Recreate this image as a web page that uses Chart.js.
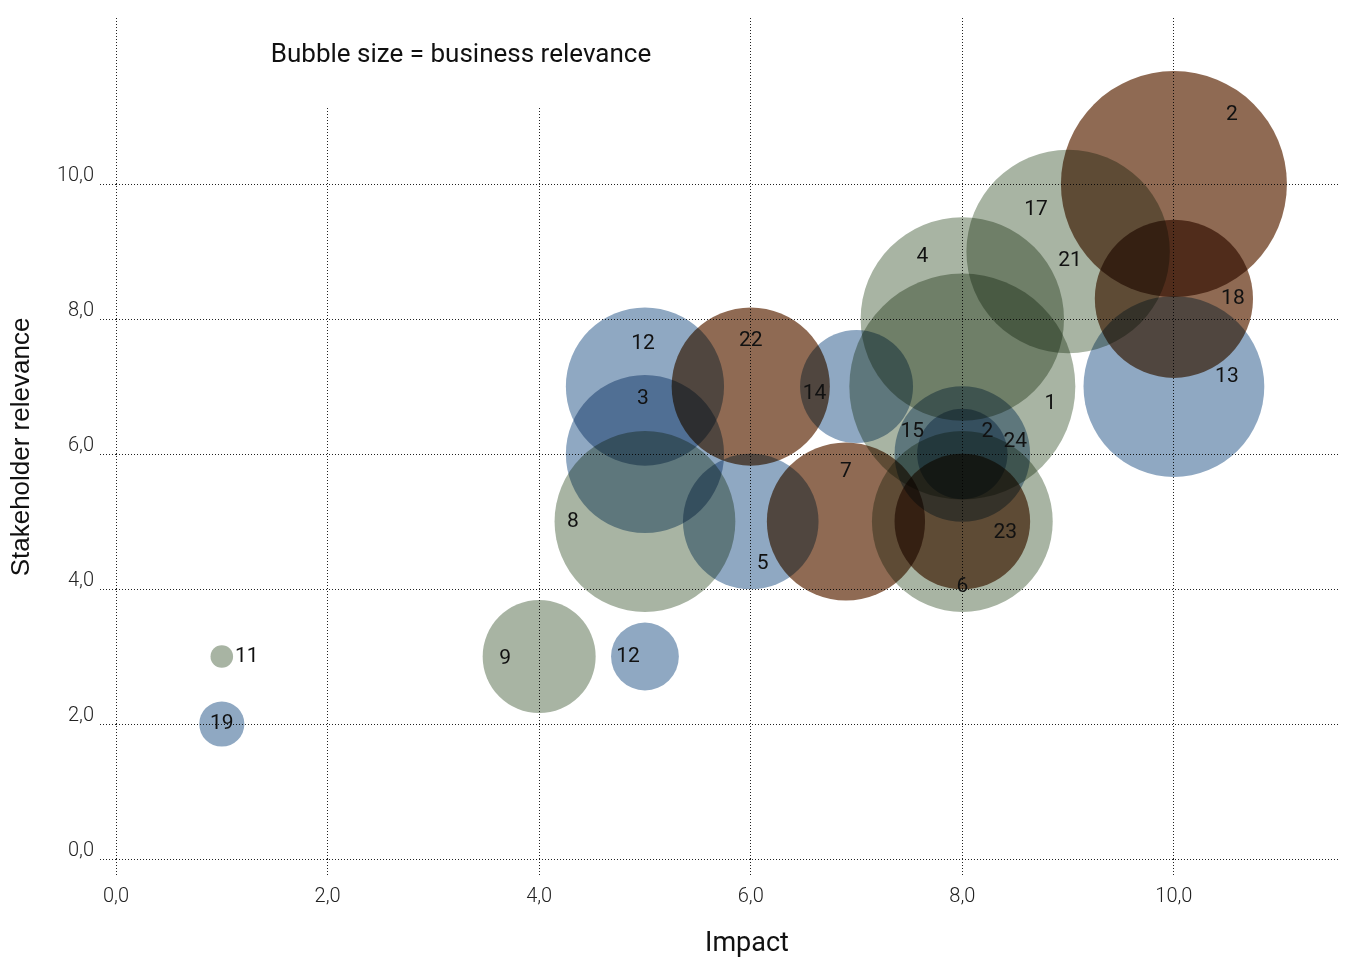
<!DOCTYPE html>
<html lang="en">
<head>
  <meta charset="UTF-8" />
  <title>Bubble size = business relevance</title>
  <style>
    body { margin: 0; background: #fff; }
    .chart-wrap { position: relative; width: 1350px; height: 958px; }
  </style>
</head>
<body>
  <div class="chart-wrap"><canvas id="grafico"></canvas></div>

  <script src="https://cdn.jsdelivr.net/npm/chart.js"></script>
  <script>
    // topic numbers printed on the bubbles
    const topics      = ['11', '19', '9', '12', '8', '3', '12', '22', '5', '14', '7', '4', '1', '17', '21', '2', '18', '13', '15', '2', '24', '6', '23'];
    const impact      = [1, 1, 4, 5, 5, 5, 5, 6, 6, 7, 6.9, 8, 8, 9, 9, 10, 10, 10, 8, 8, 8, 8, 8];
    const stakeholder = [3, 2, 3, 3, 5, 6, 7, 7, 5, 7, 5, 8, 7, 9, 9, 10, 8.3, 7, 6, 6, 6, 5, 5];
    const relevance   = [1, 2, 5, 3, 8, 7, 7, 7, 6, 5, 7, 9, 10, 9, 0, 10, 7, 8, 6, 4, 0, 8, 6];
    const group       = ['green', 'blue', 'green', 'blue', 'green', 'blue', 'blue', 'brown', 'blue', 'blue', 'brown', 'green',
                         'green', 'green', 'green', 'brown', 'brown', 'blue', 'blue', 'blue', 'blue', 'green', 'brown'];
    const xTicks = [0, 2, 4, 6, 8, 10];
    const yTicks = [0, 2, 4, 6, 8, 10];

    // styling
    const cores = { blue: '#8fa8c2', green: '#a8b4a3', brown: '#8f6a53' };
    const raioUnit = 11.3; // px per relevance point
    // where each number sits relative to its bubble centre (px)
    const labelOffsets = [[25, 0], [0, 0], [-34, 2], [-17, 0], [-72, 0], [-2, -55], [-2, -43], [0, -46], [12, 42], [-42, 7],
                          [0, -50], [-40, -62], [88, 17], [-32, -42], [2, 9], [58, -69], [59, 0], [53, -10], [-50, -22],
                          [25, -22], [53, -12], [0, 65], [43, 11]];

    const fmt = v => Number(v).toFixed(1).replace('.', ',');

    const pontos = impact.map((x, i) => ({ x, y: stakeholder[i], r: relevance[i] * raioUnit }));

    const extras = {
      id: 'extras',
      beforeDatasetsDraw(chart) {
        const ctx = chart.ctx;
        ctx.save();
        ctx.fillStyle = '#fff';
        ctx.fillRect(140, 0, 590, 107);
        ctx.fillStyle = '#111';
        ctx.font = '26px Roboto';
        ctx.textAlign = 'center';
        ctx.textBaseline = 'middle';
        ctx.fillText('Bubble size = business relevance', 461, 55);
        ctx.restore();
        // bubbles are blended like multiply
        ctx.save();
        ctx.globalCompositeOperation = 'multiply';
      },
      afterDatasetsDraw(chart) {
        const ctx = chart.ctx;
        ctx.restore();
        const meta = chart.getDatasetMeta(0);
        ctx.save();
        ctx.fillStyle = '#111';
        ctx.font = '21px Roboto';
        ctx.textAlign = 'center';
        ctx.textBaseline = 'middle';
        meta.data.forEach((pt, i) => {
          const [dx, dy] = labelOffsets[i];
          ctx.fillText(topics[i], pt.x + dx, pt.y + dy);
        });

        // axis titles
        ctx.font = '27px Roboto';
        ctx.fillText('Impact', 747, 944);
        ctx.translate(22, 447);
        ctx.rotate(-Math.PI / 2);
        ctx.font = '26px "Liberation Sans"';
        ctx.fillText('Stakeholder relevance', 0, 0);
        ctx.restore();
      }
    };

    const gridOpts = { color: '#222', lineWidth: 1, tickLength: 16, tickColor: '#222', tickBorderDash: [1, 2] };
    const tickFont = { family: 'Roboto', size: 20, weight: '300' };

    new Chart(document.getElementById('grafico'), {
      type: 'bubble',
      data: {
        datasets: [{
          data: pontos,
          backgroundColor: group.map(g => cores[g]),
          borderWidth: 0,
          hoverBorderWidth: 0,
          clip: false
        }]
      },
      options: {
        responsive: true,
        maintainAspectRatio: false,
        animation: false,
        events: [],
        layout: { autoPadding: false, padding: { top: 13, right: 10, left: 0, bottom: 0 } },
        plugins: { legend: { display: false }, tooltip: { enabled: false } },
        scales: {
          x: {
            type: 'linear',
            min: 0,
            max: 11.57,
            afterBuildTicks: s => { s.ticks = xTicks.map(v => ({ value: v })); },
            afterFit: s => { s.height = 99; },
            grid: gridOpts,
            border: { display: false, dash: [1, 2] },
            ticks: { callback: v => fmt(v), color: '#222', font: tickFont, padding: 10, maxRotation: 0 }
          },
          y: {
            type: 'linear',
            min: 0,
            max: 12.46,
            afterBuildTicks: s => { s.ticks = yTicks.map(v => ({ value: v })); },
            afterFit: s => { s.width = 116; },
            grid: gridOpts,
            border: { display: false, dash: [1, 2] },
            ticks: { callback: v => fmt(v), color: '#222', font: tickFont, padding: 6, labelOffset: -8 }
          }
        }
      },
      plugins: [extras]
    });
  </script>
</body>
</html>
